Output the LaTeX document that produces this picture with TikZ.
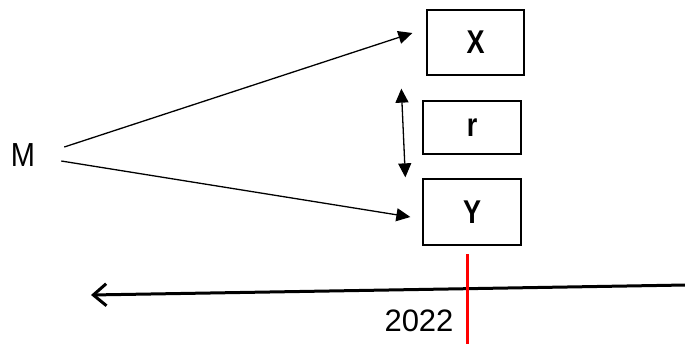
\documentclass[tikz,border=0pt]{standalone}
\usepackage{fontspec}
\usepackage{graphicx}
\setmainfont{Liberation Sans}
\usetikzlibrary{arrows.meta,calc}
% slightly tall lettering
\newcommand{\talltext}[2][1.15]{\scalebox{1}[#1]{#2}}
\begin{document}
\begin{tikzpicture}[x=1pt,y=-1pt,
    box/.style={draw,line width=1.3pt,inner sep=0pt,font=\fontsize{27}{29}\selectfont\bfseries},
    plain/.style={inner sep=0pt,font=\fontsize{29}{31}\selectfont},
    arr/.style={line width=1.3pt,-{Triangle[length=14pt,width=13pt]}},
    darr/.style={line width=1.3pt,{Triangle[length=14pt,width=13pt]}-{Triangle[length=14pt,width=13pt]}},
    timeline/.style={line width=3pt,-{Straight Barb[length=13pt,width=22pt,line width=3pt]}},
    marker/.style={line width=3pt,draw=red}]
  \useasboundingbox (0,0) rectangle (685,343);

  % boxes
  \node[box,minimum width=97pt,minimum height=65pt] (X) at (475.5,42.5) {\talltext[1.22]{X}};
  \node[box,minimum width=98pt,minimum height=53pt] (R) at (472,127.5) {\talltext[1.22]{r}};
  \node[box,minimum width=98pt,minimum height=66pt] (Y) at (472,212) {\talltext[1.22]{Y}};

  % source label
  \node[plain] (M) at (23,155) {\talltext{M}};

  % arrows from M
  \draw[arr] ($(M.east)+(29,-8)$) -- ($(X.west)+(-14,-9.5)$);
  \draw[arr] ($(M.east)+(26,6)$) -- ($(Y.west)+(-12,5)$);

  % double-headed arrow between X and Y
  \draw[darr] ($(X.south west)+(-25,13)$) -- ($(Y.north west)+(-17,-1)$);

  % time axis
  \coordinate (tlR) at (686,285);
  \coordinate (tlL) at (91,295);
  \draw[timeline] (tlR) -- (tlL);

  % year marker
  \coordinate (redtop) at (467,254);
  \coordinate (redbot) at (467,344);
  \draw[marker] (redtop) -- (redbot);
  \node[plain,font=\fontsize{31}{33}\selectfont] (year) at (419,321) {2022};
\end{tikzpicture}
\end{document}
